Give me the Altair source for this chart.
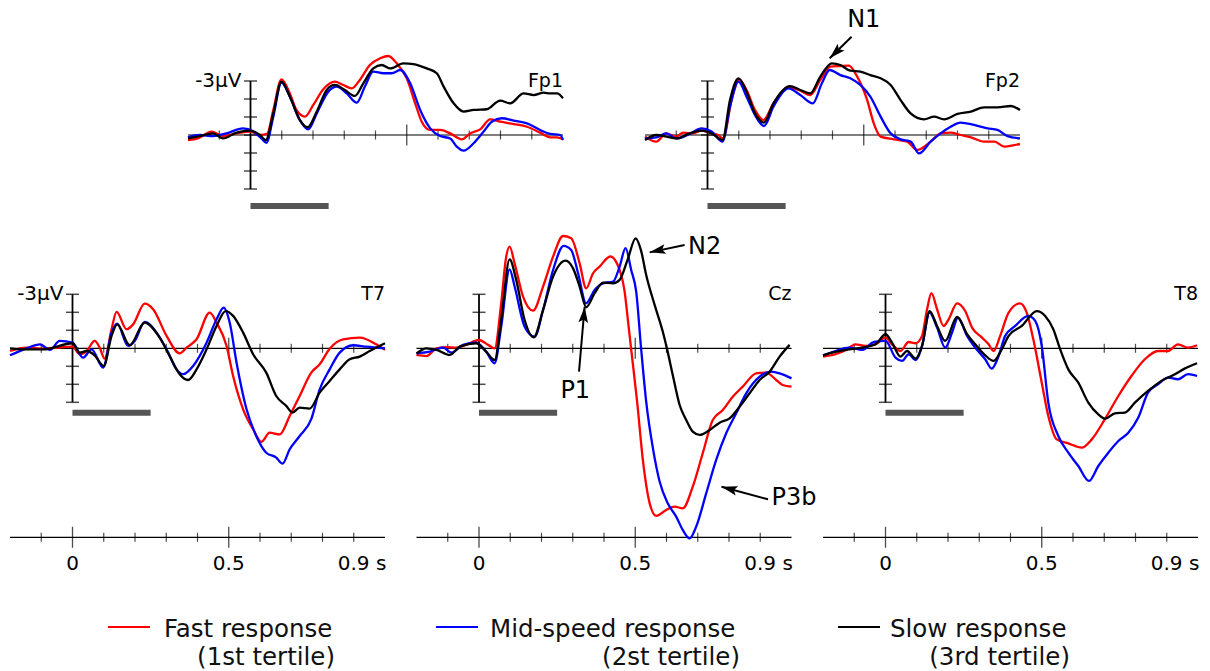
import math
import altair as alt
import pandas as pd

# ---------------- data: time (s) and amplitude (µV, negative plotted upward) -------------
FP1_FAST_T = [-0.2,-0.168,-0.125,-0.088,-0.045,0,0.03,0.053,0.073,0.099,0.126,0.147,0.174,0.201,0.233,0.27,0.297,0.324,0.35,0.382,0.415,0.441,0.468,0.5,0.527,0.548,0.575,0.607,0.639,0.676,0.703,0.735,0.767,0.799,0.842,0.885,0.927,0.959,0.981,1.0]
FP1_FAST_V = [0.28,0.19,-0.19,0.06,-0.09,-0.19,0,-0.06,-1.39,-3.09,-2.31,-1.39,-1.02,-1.67,-2.54,-2.96,-2.78,-2.59,-3.06,-3.89,-4.26,-4.39,-3.98,-3.15,-1.76,-0.74,-0.28,-0.28,-0.09,0.24,-0.09,-0.31,-0.87,-0.74,-0.61,-0.46,-0.13,0.13,0.13,0.24]
FP1_MID_T = [-0.2,-0.162,-0.12,-0.077,-0.024,0.009,0.035,0.051,0.073,0.099,0.126,0.158,0.185,0.212,0.249,0.276,0.308,0.34,0.366,0.393,0.425,0.452,0.479,0.511,0.543,0.575,0.607,0.639,0.66,0.682,0.714,0.746,0.772,0.804,0.842,0.885,0.927,0.959,0.991,1.0]
FP1_MID_V = [0.13,0,0.06,-0.09,-0.37,-0.19,0.19,0.43,-1.02,-2.91,-2.13,-0.83,-0.31,-1.2,-2.41,-2.69,-2.31,-1.8,-2.69,-3.52,-3.43,-3.43,-3.61,-2.87,-1.39,-0.37,0.06,0.19,0.65,0.87,0.46,-0.19,-0.74,-0.93,-0.8,-0.65,-0.28,-0.06,0,0.28]
FP1_SLOW_T = [-0.2,-0.162,-0.12,-0.088,-0.045,0,0.03,0.049,0.073,0.099,0.126,0.158,0.183,0.212,0.244,0.27,0.302,0.334,0.361,0.393,0.42,0.447,0.489,0.521,0.564,0.596,0.618,0.65,0.682,0.714,0.756,0.799,0.831,0.874,0.906,0.938,0.959,0.981,1.0]
FP1_SLOW_V = [0.19,0.06,-0.09,0.19,-0.13,-0.24,0,0.28,-1.2,-2.96,-2.13,-0.83,-0.43,-1.3,-2.5,-2.78,-2.5,-2.17,-2.87,-3.7,-3.89,-3.7,-3.98,-3.94,-3.7,-3.43,-2.69,-1.76,-1.3,-1.39,-1.43,-1.91,-1.76,-2.31,-2.22,-2.35,-2.31,-2.31,-2.04]

FP2_FAST_T = [-0.2,-0.164,-0.132,-0.1,-0.078,-0.046,-0.019,0.013,0.034,0.05,0.077,0.101,0.125,0.152,0.179,0.211,0.259,0.297,0.329,0.361,0.393,0.425,0.452,0.479,0.511,0.532,0.554,0.596,0.639,0.671,0.714,0.746,0.778,0.81,0.843,0.885,0.918,0.95,0.982,1.0]
FP2_FAST_V = [0.09,0.37,-0.09,0.09,-0.13,-0.09,-0.24,-0.09,0,0.19,-1.94,-3.09,-2.5,-1.39,-0.83,-1.76,-2.65,-2.46,-2.22,-3.06,-3.8,-3.83,-3.85,-3.24,-1.94,-0.65,0.09,0.24,0.37,0.83,0.37,-0.09,-0.13,0,0.13,0.37,0.37,0.65,0.56,0.5]
FP2_MID_T = [-0.2,-0.164,-0.132,-0.1,-0.057,-0.019,0.013,0.048,0.072,0.099,0.125,0.152,0.181,0.211,0.259,0.297,0.337,0.366,0.391,0.425,0.457,0.489,0.521,0.554,0.586,0.618,0.65,0.677,0.714,0.746,0.778,0.81,0.853,0.896,0.928,0.96,1.0]
FP2_MID_V = [0.19,0.13,-0.09,0.19,-0.06,-0.37,-0.19,0.37,-1.57,-2.96,-2.13,-1.11,-0.5,-1.57,-2.59,-2.22,-1.76,-2.87,-3.61,-3.33,-3.15,-2.78,-2.13,-1.02,-0.09,0.24,0.37,1.02,0.37,-0.09,-0.46,-0.69,-0.56,-0.37,-0.28,0.06,0.19]
FP2_SLOW_T = [-0.2,-0.164,-0.132,-0.1,-0.057,-0.019,0.013,0.048,0.072,0.099,0.125,0.152,0.181,0.211,0.264,0.297,0.329,0.361,0.398,0.425,0.457,0.489,0.521,0.554,0.586,0.618,0.65,0.693,0.725,0.757,0.8,0.843,0.885,0.928,0.971,1.0]
FP2_SLOW_V = [0.28,0,0.09,0.19,-0.09,-0.24,-0.09,0.28,-1.94,-3.15,-2.41,-1.2,-0.69,-1.76,-2.72,-2.5,-2.31,-3.24,-3.98,-3.89,-3.57,-3.52,-3.33,-3.15,-2.78,-1.94,-1.2,-0.87,-1.02,-0.87,-1.17,-1.3,-1.54,-1.54,-1.61,-1.39]

T7_FAST_T = [-0.2,-0.147,-0.094,0,0.023,0.045,0.071,0.087,0.103,0.125,0.141,0.173,0.194,0.231,0.258,0.301,0.343,0.365,0.397,0.439,0.461,0.493,0.514,0.546,0.578,0.604,0.631,0.663,0.695,0.727,0.764,0.791,0.823,0.866,0.919,0.972,1.0]
T7_FAST_V = [0.15,-0.04,0.02,-0.09,0.33,0.15,-0.41,-0.04,0.57,-1.06,-2.02,-1.06,-1.33,-2.48,-2.17,-0.69,0.28,-0.04,-0.5,-1.98,-1.43,-0.13,1.54,3.39,4.5,5.2,4.69,4.78,3.76,2.65,1.35,0.89,0.02,-0.5,-0.59,-0.22,0.09]
T7_MID_T = [-0.2,-0.147,-0.104,-0.072,-0.041,0,0.034,0.061,0.098,0.125,0.143,0.178,0.199,0.231,0.269,0.301,0.333,0.354,0.386,0.429,0.461,0.484,0.503,0.525,0.557,0.588,0.62,0.652,0.672,0.695,0.727,0.764,0.791,0.823,0.855,0.898,0.94,1.0]
T7_MID_V = [0.39,0,-0.22,0.09,-0.41,-0.31,0.52,0.06,1.07,-0.87,-1.37,-0.13,-0.41,-1.46,-0.87,0.06,1.17,1.44,0.98,-0.31,-1.61,-2.26,-1.43,0.8,3.39,4.87,5.8,6.07,6.41,5.61,4.87,3.94,2.28,1.17,0.24,-0.17,-0.09,0]
T7_SLOW_T = [-0.2,-0.158,-0.094,0,0.023,0.045,0.071,0.1,0.125,0.143,0.183,0.231,0.279,0.311,0.343,0.37,0.397,0.429,0.461,0.49,0.514,0.546,0.578,0.62,0.652,0.684,0.704,0.727,0.759,0.791,0.823,0.855,0.887,0.919,0.951,1.0]
T7_SLOW_V = [0,0.06,0.06,-0.28,0.24,0.15,0.39,0.98,-0.69,-1.33,-0.17,-1.43,-0.59,0.43,1.44,1.76,1.17,0.06,-1.24,-2.07,-1.8,-0.87,0.33,1.35,2.65,3.2,3.57,3.3,3.35,2.46,1.81,1.17,0.61,0.46,0.15,-0.28]

CZ_FAST_T = [-0.2,-0.168,-0.136,-0.104,-0.072,-0.041,0,0.029,0.05,0.071,0.087,0.098,0.114,0.141,0.173,0.205,0.237,0.269,0.295,0.322,0.343,0.365,0.386,0.42,0.455,0.466,0.477,0.487,0.506,0.525,0.546,0.567,0.599,0.626,0.652,0.684,0.716,0.748,0.78,0.812,0.844,0.887,0.919,0.951,0.972,1.0]
CZ_FAST_V = [0.37,0.43,0,-0.06,-0.04,-0.19,-0.46,-0.19,0,-2.5,-5.09,-5.65,-4.72,-2.87,-2.09,-3.43,-5.09,-6.24,-6.11,-4.72,-3.33,-4.17,-4.54,-5.1,-4.07,-3.15,-1.48,0.06,2.96,6.3,8.6,9.31,8.98,8.8,8.89,7.69,5.83,3.98,3.43,2.69,2.13,1.39,1.35,1.76,2.04,2.13]
CZ_MID_T = [-0.2,-0.158,-0.115,-0.088,-0.051,-0.009,0.023,0.05,0.071,0.098,0.114,0.146,0.178,0.205,0.237,0.271,0.295,0.317,0.343,0.37,0.397,0.429,0.45,0.469,0.487,0.503,0.519,0.535,0.557,0.578,0.604,0.631,0.652,0.674,0.695,0.727,0.759,0.791,0.823,0.855,0.898,0.935,0.962,1.0]
CZ_MID_V = [0.28,0.19,-0.04,0.24,-0.19,-0.31,0.19,0.83,-1.2,-4.39,-3.43,-1.2,-0.65,-2.13,-4.35,-5.69,-5.46,-4.17,-2.5,-3.24,-3.61,-3.7,-4.54,-5.56,-4.35,-3.15,0.06,2.96,5.6,7.4,8.61,9.35,10.09,10.56,9.91,8.06,6.2,4.72,3.61,2.5,1.57,1.3,1.39,1.67]
CZ_SLOW_T = [-0.2,-0.168,-0.136,-0.094,-0.062,-0.009,0.023,0.05,0.071,0.098,0.119,0.146,0.175,0.205,0.237,0.277,0.301,0.322,0.343,0.37,0.397,0.429,0.45,0.477,0.501,0.519,0.535,0.562,0.588,0.602,0.62,0.642,0.663,0.684,0.706,0.738,0.77,0.802,0.834,0.866,0.898,0.93,0.962,0.994]
CZ_SLOW_V = [0.28,0,0.09,0.37,-0.09,-0.28,0.19,0.65,-1.57,-4.94,-3.8,-1.57,-0.61,-2.13,-3.98,-4.87,-4.44,-3.43,-2.28,-3.06,-3.65,-3.61,-3.8,-5.0,-6.11,-5.4,-4.07,-2.41,-0.93,0.06,1.48,3.15,3.98,4.63,4.81,4.54,4.13,3.89,3.24,2.5,1.76,1.3,0.46,-0.19]

T8_FAST_T = [-0.2,-0.16,-0.128,-0.096,-0.064,-0.032,0,0.021,0.048,0.074,0.096,0.117,0.133,0.147,0.165,0.186,0.202,0.229,0.255,0.277,0.309,0.33,0.346,0.367,0.394,0.431,0.452,0.473,0.5,0.521,0.548,0.585,0.628,0.66,0.702,0.745,0.787,0.83,0.872,0.904,0.936,0.968,0.997]
T8_FAST_V = [0.46,0.33,0.11,-0.22,-0.13,-0.22,-0.59,-0.22,0.15,-0.35,-0.28,-0.69,-2.17,-3.06,-2.17,-1.24,-1.61,-2.5,-2.07,-1.15,-0.59,-0.22,0.15,-0.69,-1.98,-2.5,-1.98,-0.5,1.91,3.76,5.06,5.28,5.52,5.06,3.94,2.65,1.54,0.61,0.15,0.15,-0.22,-0.04,-0.17]
T8_MID_T = [-0.2,-0.16,-0.117,-0.074,-0.037,0,0.032,0.053,0.074,0.096,0.117,0.141,0.165,0.191,0.213,0.232,0.261,0.287,0.319,0.34,0.362,0.383,0.415,0.457,0.479,0.5,0.521,0.553,0.585,0.617,0.651,0.681,0.713,0.745,0.777,0.809,0.84,0.872,0.904,0.936,0.968,0.997]
T8_MID_V = [0.39,0.15,-0.04,0.09,-0.35,-0.41,0.52,0.7,0.33,0.65,-0.13,-1.98,-1.15,-0.04,-0.87,-1.7,-0.69,-0.04,0.61,1.13,0.43,-0.69,-1.24,-1.8,-1.52,-0.13,3.02,4.87,5.8,6.54,7.37,6.54,5.8,5.15,4.69,3.85,2.46,2.0,1.63,1.72,1.44,1.54]
T8_SLOW_T = [-0.2,-0.16,-0.117,-0.074,-0.032,0,0.021,0.048,0.069,0.096,0.117,0.141,0.165,0.191,0.229,0.261,0.287,0.319,0.346,0.372,0.394,0.436,0.484,0.511,0.537,0.559,0.585,0.617,0.649,0.681,0.704,0.734,0.766,0.798,0.84,0.883,0.926,0.957,0.997]
T8_SLOW_V = [0.39,0.2,0.06,-0.04,-0.22,-0.78,-0.31,0.46,0.15,0.57,-0.13,-2.07,-1.24,-0.41,-1.74,-0.78,-0.22,0.39,0.7,0.06,-0.69,-1.24,-2.07,-1.8,-1.06,0.06,1.17,1.91,3.02,3.67,3.91,3.61,3.57,3.02,2.37,1.81,1.44,1.13,0.83]

SERIES = ["Fast response", "Mid-speed response", "Slow response"]
SUBLABELS = ["(1st tertile)", "(2st tertile)", "(3rd tertile)"]
COLORS = ["#ff0000", "#0000ff", "#000000"]

PANELS = ["Fp1", "Fp2", "T7", "Cz", "T8"]
PANEL_DATA = {
    "Fp1": [(FP1_FAST_T, FP1_FAST_V), (FP1_MID_T, FP1_MID_V), (FP1_SLOW_T, FP1_SLOW_V)],
    "Fp2": [(FP2_FAST_T, FP2_FAST_V), (FP2_MID_T, FP2_MID_V), (FP2_SLOW_T, FP2_SLOW_V)],
    "T7": [(T7_FAST_T, T7_FAST_V), (T7_MID_T, T7_MID_V), (T7_SLOW_T, T7_SLOW_V)],
    "Cz": [(CZ_FAST_T, CZ_FAST_V), (CZ_MID_T, CZ_MID_V), (CZ_SLOW_T, CZ_SLOW_V)],
    "T8": [(T8_FAST_T, T8_FAST_V), (T8_MID_T, T8_MID_V), (T8_SLOW_T, T8_SLOW_V)],
}

# annotations: label, panel, text centre (t, µV), arrow tail (t, µV), arrow tip (t, µV)
ANNOT_LABEL = ["N1", "N2", "P1", "P3b"]
ANNOT_PANEL = ["Fp2", "Cz", "Cz", "Cz"]
ANNOT_TEXT_T = [0.50, 0.722, 0.308, 1.008]
ANNOT_TEXT_V = [-6.39, -5.64, 2.36, 8.33]
ANNOT_TAIL_T = [0.461, 0.658, 0.320, 0.925]
ANNOT_TAIL_V = [-5.46, -5.74, 1.30, 8.39]
ANNOT_TIP_T = [0.391, 0.546, 0.338, 0.776]
ANNOT_TIP_V = [-4.26, -5.33, -2.31, 7.69]

# ---------------- layout ----------------
W, H = 1210, 671
T_MIN, T_MAX = -0.2, 1.0
PANEL_W = 375
PX_PER_S = PANEL_W / (T_MAX - T_MIN)
PX_PER_UV = 18
PANEL_LEFT_PX = {"Fp1": 188, "Fp2": 645, "T7": 10, "Cz": 416.5, "T8": 823}
ZERO_Y_PX = {"Fp1": 135, "Fp2": 135, "T7": 348.3, "Cz": 348.3, "T8": 348.3}
SHOW_UV = {"Fp1": True, "Fp2": False, "T7": True, "Cz": False, "T8": False}
BOTTOM_ROW = {"Fp1": False, "Fp2": False, "T7": True, "Cz": True, "T8": True}
STIM_BAR_UV = {"Fp1": 3.95, "Fp2": 3.95, "T7": 3.58, "Cz": 3.58, "T8": 3.58}
AXIS_UV = [-3, -2, -1, 0, 1, 2, 3]
MINOR_T = [-0.1, 0.1, 0.2, 0.3, 0.4, 0.6, 0.7, 0.8, 0.9]
MAJOR_T = [0.0, 0.5]
TIME_AXIS_UV = 10.5
TIME_LABEL_UV = 12.0
STIM_START, STIM_END = 0.0, 0.25
FONT = "DejaVu Sans"
ARROW_PATH = "M0,0 L0.3,1 L0,0.8 L-0.3,1 Z"

# global coordinate frame: x in seconds, y in µV (continuous across panels)
X0 = 0.0
Y0 = 0.0
X1 = X0 + W / PX_PER_S
Y1 = Y0 + H / PX_PER_UV


def gx(panel, t):
    return X0 + PANEL_LEFT_PX[panel] / PX_PER_S + (t - T_MIN)


def gy(panel, v):
    return Y0 + ZERO_Y_PX[panel] / PX_PER_UV + v


def px_x(p):
    return X0 + p / PX_PER_S


def px_y(p):
    return Y0 + p / PX_PER_UV


def arrow_angle(t0, v0, t1, v1):
    dx = (t1 - t0) * PX_PER_S
    dy = (v1 - v0) * PX_PER_UV
    return math.degrees(math.atan2(dx, -dy)) % 360


XS = alt.Scale(domain=[X0, X1], nice=False, zero=False)
YS = alt.Scale(domain=[Y0, Y1], nice=False, zero=False, reverse=True)


def X(f):
    return alt.X(f, type="quantitative", scale=XS, axis=None)


def Y(f):
    return alt.Y(f, type="quantitative", scale=YS, axis=None)


# ---------------- build tables ----------------
curves = []
hrules, vrules, bars = [], [], []
ticks_small, ticks_big, ticks_h = [], [], []
labels_tick, labels_tick_left, labels_panel, labels_uv = [], [], [], []
for p in PANELS:
    for si, (ts, vs) in enumerate(PANEL_DATA[p]):
        for k, (t, v) in enumerate(zip(ts, vs)):
            curves.append({"panel": p, "s": SERIES[si], "k": k, "x": gx(p, t), "y": gy(p, v)})
    hrules.append({"x": gx(p, T_MIN), "x2": gx(p, T_MAX), "y": gy(p, 0)})
    vrules.append({"x": gx(p, 0), "y": gy(p, AXIS_UV[0]), "y2": gy(p, AXIS_UV[-1])})
    bars.append({"x": gx(p, STIM_START), "x2": gx(p, STIM_END), "y": gy(p, STIM_BAR_UV[p])})
    for t in MINOR_T:
        ticks_small.append({"x": gx(p, t), "y": gy(p, 0)})
    ticks_big.append({"x": gx(p, 0.5), "y": gy(p, 0)})
    for v in AXIS_UV:
        ticks_h.append({"x": gx(p, 0), "y": gy(p, v)})
    labels_panel.append({"x": gx(p, T_MAX), "y": gy(p, -3), "txt": p})
    if SHOW_UV[p]:
        labels_uv.append({"x": gx(p, 0), "y": gy(p, -3), "txt": "-3µV"})
    if BOTTOM_ROW[p]:
        hrules.append({"x": gx(p, T_MIN), "x2": gx(p, T_MAX), "y": gy(p, TIME_AXIS_UV)})
        for t in MINOR_T:
            ticks_small.append({"x": gx(p, t), "y": gy(p, TIME_AXIS_UV)})
        for t in MAJOR_T:
            ticks_big.append({"x": gx(p, t), "y": gy(p, TIME_AXIS_UV)})
        labels_tick.append({"x": gx(p, 0), "y": gy(p, TIME_LABEL_UV), "txt": "0"})
        labels_tick.append({"x": gx(p, 0.5), "y": gy(p, TIME_LABEL_UV), "txt": "0.5"})
        labels_tick_left.append({"x": gx(p, 0.9), "y": gy(p, TIME_LABEL_UV), "txt": "0.9 s"})

curves = pd.DataFrame(curves)
annot = pd.DataFrame({
    "txt": ANNOT_LABEL,
    "tx": [gx(p, t) for p, t in zip(ANNOT_PANEL, ANNOT_TEXT_T)],
    "ty": [gy(p, v) for p, v in zip(ANNOT_PANEL, ANNOT_TEXT_V)],
    "x0": [gx(p, t) for p, t in zip(ANNOT_PANEL, ANNOT_TAIL_T)],
    "y0": [gy(p, v) for p, v in zip(ANNOT_PANEL, ANNOT_TAIL_V)],
    "x1": [gx(p, t) for p, t in zip(ANNOT_PANEL, ANNOT_TIP_T)],
    "y1": [gy(p, v) for p, v in zip(ANNOT_PANEL, ANNOT_TIP_V)],
    "ang": [arrow_angle(a, b, c, d) for a, b, c, d in zip(ANNOT_TAIL_T, ANNOT_TAIL_V, ANNOT_TIP_T, ANNOT_TIP_V)],
})

# legend layout (pixels of the figure)
LEGEND_LINE_X = [108, 436, 838]
LEGEND_LINE_LEN = 42
LEGEND_TEXT_X = [164, 490, 890]
LEGEND_RIGHT = [335, 740, 1070]
LEGEND_LINE_Y = 627
LEGEND_ROW1_Y = 636.5
LEGEND_ROW2_Y = 665
legend = pd.DataFrame({
    "s": SERIES,
    "sub": SUBLABELS,
    "x0": [px_x(x) for x in LEGEND_LINE_X],
    "x1": [px_x(x + LEGEND_LINE_LEN) for x in LEGEND_LINE_X],
    "xt": [px_x(x) for x in LEGEND_TEXT_X],
    "xr": [px_x(x) for x in LEGEND_RIGHT],
    "yl": [px_y(LEGEND_LINE_Y)] * 3,
    "y1": [px_y(LEGEND_ROW1_Y)] * 3,
    "y2": [px_y(LEGEND_ROW2_Y)] * 3,
})

color = alt.Color("s:N", scale=alt.Scale(domain=SERIES, range=COLORS), legend=None)

layers = [
    alt.Chart(pd.DataFrame(hrules)).mark_rule(color="black", strokeWidth=1.2)
    .encode(x=X("x"), x2="x2", y=Y("y")),
    alt.Chart(pd.DataFrame(ticks_small)).mark_tick(orient="vertical", size=9, thickness=1.2, color="black")
    .encode(x=X("x"), y=Y("y")),
    alt.Chart(pd.DataFrame(ticks_big)).mark_tick(orient="vertical", size=21, thickness=1.3, color="black")
    .encode(x=X("x"), y=Y("y")),
    alt.Chart(pd.DataFrame(vrules)).mark_rule(color="black", strokeWidth=1.8)
    .encode(x=X("x"), y=Y("y"), y2="y2"),
    alt.Chart(pd.DataFrame(ticks_h)).mark_tick(orient="horizontal", size=13, thickness=1.5, color="black")
    .encode(x=X("x"), y=Y("y")),
    alt.Chart(pd.DataFrame(bars)).mark_rule(color="#555555", strokeWidth=6)
    .encode(x=X("x"), x2="x2", y=Y("y")),
]
for s, c in zip(SERIES, COLORS):
    for p in PANELS:
        d = curves[(curves.s == s) & (curves.panel == p)]
        layers.append(alt.Chart(d).mark_line(color=c, strokeWidth=2.3, interpolate="monotone")
                      .encode(x=X("x"), y=Y("y"), order="k:Q"))

layers += [
    alt.Chart(pd.DataFrame(labels_tick)).mark_text(font=FONT, fontSize=20, align="center", baseline="middle", color="black")
    .encode(x=X("x"), y=Y("y"), text="txt:N"),
    alt.Chart(pd.DataFrame(labels_tick_left)).mark_text(font=FONT, fontSize=20, align="left", baseline="middle", dx=-16, color="black")
    .encode(x=X("x"), y=Y("y"), text="txt:N"),
    alt.Chart(pd.DataFrame(labels_panel)).mark_text(font=FONT, fontSize=19, align="right", baseline="middle", color="black")
    .encode(x=X("x"), y=Y("y"), text="txt:N"),
    alt.Chart(pd.DataFrame(labels_uv)).mark_text(font=FONT, fontSize=20, align="right", baseline="middle", dx=-9, color="black")
    .encode(x=X("x"), y=Y("y"), text="txt:N"),
    alt.Chart(annot).mark_rule(color="black", strokeWidth=2)
    .encode(x=X("x0"), y=Y("y0"), x2="x1", y2="y1"),
    alt.Chart(annot).mark_point(shape=ARROW_PATH, filled=True, color="black", opacity=1, size=1024, strokeWidth=0)
    .encode(x=X("x1"), y=Y("y1"), angle=alt.Angle("ang:Q", scale=None)),
    alt.Chart(annot).mark_text(font=FONT, fontSize=24, align="center", baseline="middle", color="black")
    .encode(x=X("tx"), y=Y("ty"), text="txt:N"),
    alt.Chart(legend).mark_rule(strokeWidth=2.2)
    .encode(x=X("x0"), x2="x1", y=Y("yl"), color=color),
    alt.Chart(legend).mark_text(font=FONT, fontSize=24.5, align="left", baseline="alphabetic", color="#111111")
    .encode(x=X("xt"), y=Y("y1"), text="s:N"),
    alt.Chart(legend).mark_text(font=FONT, fontSize=24.5, align="right", baseline="alphabetic", color="#111111")
    .encode(x=X("xr"), y=Y("y2"), text="sub:N"),
]

chart = alt.layer(*layers).properties(
    width=W, height=H, padding=0, autosize=alt.AutoSizeParams(type="none"), background="white"
).configure_view(stroke=None)

chart.save("out.html", embed_options={"renderer": "svg", "actions": False})
